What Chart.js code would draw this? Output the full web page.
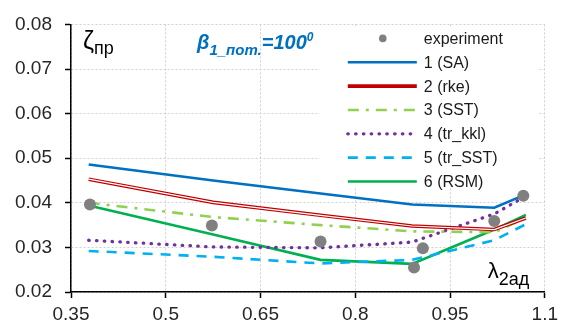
<!DOCTYPE html>
<html lang="ru">
<head>
<meta charset="UTF-8">
<title>Коэффициент потерь</title>
<script src="https://cdn.jsdelivr.net/npm/chart.js"></script>
<style>
  html, body { margin: 0; padding: 0; background: #fff; }
  #box { width: 563px; height: 326px; }
</style>
</head>
<body>
<div id="box"><canvas id="lossChart"></canvas></div>
<script>
// эксперимент
const lambdaExp = [0.38, 0.573, 0.745, 0.893, 0.907, 1.020, 1.066];
const zetaExp   = [0.0396, 0.0349, 0.0313, 0.0255, 0.0298, 0.0359, 0.0416];

// расчёт, модели турбулентности
const lambdaCalc = [0.378, 0.575, 0.745, 0.89, 1.02, 1.07];
const zetaSA     = [0.0486, 0.0450, 0.0421, 0.0396, 0.0389, 0.0419];
const zetaRke    = [0.0453, 0.0401, 0.0372, 0.0348, 0.0340, 0.0366];
const zetaSST    = [0.0400, 0.0368, 0.0350, 0.0336, 0.0334, 0.0366];
const zetaTrKkl  = [0.0316, 0.0301, 0.0299, 0.0312, 0.0375, 0.0415];
const zetaTrSST  = [0.0292, 0.0279, 0.0264, 0.0272, 0.0316, 0.0352];
const zetaRSM    = [0.0394, 0.0329, 0.0272, 0.0263, 0.0340, 0.0373];

const xTicks = [0.35, 0.5, 0.65, 0.8, 0.95, 1.1];
const yTicks = [0.02, 0.03, 0.04, 0.05, 0.06, 0.07, 0.08];

function pts(xs, ys) {
    return xs.map((x, i) => ({ x: x, y: ys[i] }));
}

function calcLine(label, ys, color, width, dash, cap) {
    return {
        label: label,
        data: pts(lambdaCalc, ys),
        borderColor: color,
        backgroundColor: color,
        borderWidth: width,
        borderDash: dash || [],
        borderCapStyle: cap || 'butt',
        pointRadius: 0,
        tension: 0,
        fill: false
    };
}

// белая середина у линии rke (двойная линия)
const rkeInner = calcLine('', zetaRke, '#ffffff', 1.2);
rkeInner.noLegend = true;

const datasets = [
    {
        label: 'experiment',
        data: pts(lambdaExp, zetaExp),
        showLine: false,
        pointRadius: 6,
        pointBackgroundColor: '#808080',
        pointBorderColor: '#808080',
        pointBorderWidth: 0,
        borderColor: '#808080',
        backgroundColor: '#808080'
    },
    calcLine('1 (SA)', zetaSA, '#0070C0', 2.5),
    rkeInner,
    calcLine('2 (rke)', zetaRke, '#C00000', 3.6),
    calcLine('3 (SST)', zetaSST, '#92D050', 2.6, [11, 7, 3, 7]),
    calcLine('4 (tr_kkl)', zetaTrKkl, '#7030A0', 3.3, [0.5, 7.3], 'round'),
    calcLine('5 (tr_SST)', zetaTrSST, '#00B0F0', 2.6, [10, 8]),
    calcLine('6 (RSM)', zetaRSM, '#00B050', 2.6)
];

// легенда внутри поля графика, на белом фоне
const insideLegend = {
    id: 'insideLegend',
    beforeDatasetsDraw(chart) {
        const ctx = chart.ctx;
        const a = chart.chartArea;
        const left = a.right - 225;
        const top = a.top + 2;
        ctx.save();
        ctx.fillStyle = '#ffffff';
        ctx.fillRect(left, top, 218, 160);

        const items = chart.data.datasets.filter(d => !d.noLegend);
        ctx.font = '16px Arial, "Liberation Sans", sans-serif';
        ctx.textBaseline = 'middle';
        ctx.textAlign = 'left';
        items.forEach((d, i) => {
            const y = top + 12 + i * 23.85;
            if (d.showLine === false) {
                ctx.fillStyle = d.pointBackgroundColor;
                ctx.beginPath();
                ctx.arc(left + 63, y, 3.8, 0, Math.PI * 2);
                ctx.fill();
            } else {
                ctx.strokeStyle = d.borderColor;
                ctx.lineWidth = d.borderWidth;
                ctx.lineCap = d.borderCapStyle;
                ctx.setLineDash(d.borderDash);
                ctx.beginPath();
                ctx.moveTo(left + 28, y);
                ctx.lineTo(left + 97, y);
                ctx.stroke();
                ctx.setLineDash([]);
            }
            ctx.fillStyle = '#1a1a1a';
            ctx.fillText(d.label, left + 104, y + 1);
        });
        ctx.restore();
    }
};

// подписи осей и заголовок
function drawParts(ctx, x, parts) {
    parts.forEach(p => {
        ctx.font = p.font;
        ctx.fillText(p.text, x, p.y);
        x += ctx.measureText(p.text).width;
    });
}

const axisCaptions = {
    id: 'axisCaptions',
    afterDatasetsDraw(chart) {
        const ctx = chart.ctx;
        const a = chart.chartArea;
        const face = 'Arial, "Liberation Sans", sans-serif';
        ctx.save();
        ctx.textBaseline = 'alphabetic';
        ctx.textAlign = 'left';

        ctx.fillStyle = '#000000';
        drawParts(ctx, a.left + 12, [
            { text: 'ζ', font: '25px ' + face, y: a.top + 25 },
            { text: 'пр', font: '18px ' + face, y: a.top + 30 }
        ]);
        drawParts(ctx, a.right - 57, [
            { text: 'λ', font: '22px ' + face, y: a.bottom - 14 },
            { text: '2ад', font: '18px ' + face, y: a.bottom - 7 }
        ]);

        ctx.fillStyle = '#0070C0';
        drawParts(ctx, a.left + 126, [
            { text: 'β', font: 'italic bold 20px ' + face, y: a.top + 25 },
            { text: '1_пот.', font: 'italic bold 15px ' + face, y: a.top + 31 },
            { text: '=100', font: 'italic bold 20px ' + face, y: a.top + 25 },
            { text: '0', font: 'italic bold 12px ' + face, y: a.top + 17 }
        ]);
        ctx.restore();
    }
};

const tickFont = { family: 'Arial, "Liberation Sans", sans-serif', size: 19 };

new Chart(document.getElementById('lossChart'), {
    type: 'line',
    data: { datasets: datasets },
    plugins: [insideLegend, axisCaptions],
    options: {
        responsive: true,
        maintainAspectRatio: false,
        devicePixelRatio: 1,
        animation: false,
        layout: { padding: { top: 20, right: 15, left: 0, bottom: 0 } },
        plugins: {
            legend: { display: false },
            tooltip: { enabled: false }
        },
        scales: {
            x: {
                type: 'linear',
                min: xTicks[0],
                max: xTicks[xTicks.length - 1],
                afterBuildTicks: s => { s.ticks = xTicks.map(v => ({ value: v })); },
                afterFit: s => { s.height = 34; },
                ticks: {
                    padding: 5,
                    color: '#262626',
                    font: tickFont,
                    callback: v => String(Math.round(v * 100) / 100)
                },
                grid: {
                    color: '#d0d0d0',
                    lineWidth: 1,
                    drawTicks: true,
                    tickLength: 6,
                    tickColor: '#000000',
                    tickWidth: 1.5,
                    tickBorderDash: []
                },
                border: { display: true, color: '#000000', width: 1.5, dash: [2, 2] }
            },
            y: {
                type: 'linear',
                min: yTicks[0],
                max: yTicks[yTicks.length - 1],
                afterBuildTicks: s => { s.ticks = yTicks.map(v => ({ value: v })); },
                afterFit: s => { s.width = 71; },
                ticks: {
                    padding: 13,
                    color: '#262626',
                    font: tickFont,
                    callback: v => v.toFixed(2)
                },
                grid: {
                    color: '#d0d0d0',
                    lineWidth: 1,
                    drawTicks: true,
                    tickLength: 6,
                    tickColor: '#000000',
                    tickWidth: 1.5,
                    tickBorderDash: []
                },
                border: { display: true, color: '#000000', width: 1.5, dash: [2, 2] }
            }
        }
    }
});
</script>
</body>
</html>
